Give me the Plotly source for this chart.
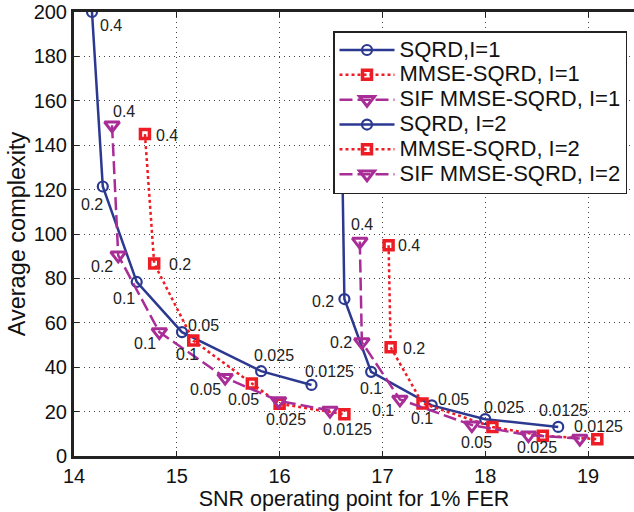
import plotly.graph_objects as go

# ---------------- data ----------------
names = ["SQRD,I=1", "MMSE-SQRD, I=1", "SIF MMSE-SQRD, I=1",
         "SQRD, I=2", "MMSE-SQRD, I=2", "SIF MMSE-SQRD, I=2"]

sqrd1_x = [14.175, 14.28, 14.61, 15.05, 15.82, 16.31]
sqrd1_y = [200.0, 121.4, 78.4, 55.8, 38.2, 32.0]
mmse1_x = [14.69, 14.78, 15.16, 15.73, 16.0, 16.63]
mmse1_y = [145.0, 86.7, 52.0, 32.7, 23.5, 18.8]
sif1_x = [14.37, 14.43, 14.83, 15.47, 15.99, 16.49]
sif1_y = [149.0, 90.4, 55.8, 35.3, 24.8, 20.5]

sqrd2_x = [16.60, 16.63, 16.89, 17.48, 18.0, 18.71]
sqrd2_y = [160.0, 70.7, 37.9, 22.8, 16.6, 13.1]
mmse2_x = [17.06, 17.08, 17.39, 18.07, 18.56, 19.09]
mmse2_y = [94.9, 49.0, 23.7, 13.1, 9.1, 7.6]
sif2_x = [16.78, 16.80, 17.17, 17.87, 18.42, 18.92]
sif2_y = [96.6, 51.3, 25.5, 13.9, 9.4, 7.9]

# point labels (empty where the reference shows none)
sqrd1_lab = ["0.4", "0.2", "0.1", "0.05", "0.025", "0.0125"]
mmse1_lab = ["0.4", "0.2", "0.1", "0.05", "0.025", "0.0125"]
sif1_lab = ["0.4", "0.2", "0.1", "0.05", "", ""]
sqrd2_lab = ["", "0.2", "0.1", "0.05", "0.025", "0.0125"]
mmse2_lab = ["0.4", "0.2", "0.1", "", "", "0.0125"]
sif2_lab = ["0.4", "0.2", "0.1", "0.05", "0.025", ""]

# ---------------- styling ----------------
BLUE = "#2B3990"
RED = "#EE1C25"
MAG = "#A92D97"
FONT = "Liberation Sans, Arial, sans-serif"

xs = [sqrd1_x, mmse1_x, sif1_x, sqrd2_x, mmse2_x, sif2_x]
ys = [sqrd1_y, mmse1_y, sif1_y, sqrd2_y, mmse2_y, sif2_y]
labs = [sqrd1_lab, mmse1_lab, sif1_lab, sqrd2_lab, mmse2_lab, sif2_lab]

# label pixel offsets (dx right, dy down)
offsets = [
    [(19, 13), (-11, 18), (-13, 17), (22, -7), (13, -16), (18, -13)],
    [(22, 1), (26, 1), (-6, 14), (-8, 16), (6, 16), (3, 15)],
    [(12, -14), (-16, 11), (-14, 11), (-20, 12), (0, 0), (0, 0)],
    [(0, 0), (-21, 2), (0, 17), (22, -6), (19, -12), (5, -16)],
    [(20, 0), (23, 1), (-1, 15), (0, 0), (0, 0), (1, -13)],
    [(2, -17), (-21, 0), (-17, 11), (5, 17), (9, 12), (0, 0)],
]

styles = [
    dict(line=dict(color=BLUE, width=2.5, dash="solid"),
         marker=dict(symbol="circle-open", size=10, color=BLUE, line=dict(width=2.2, color=BLUE))),
    dict(line=dict(color=RED, width=2.5, dash="3px,3px"),
         marker=dict(symbol="square-open", size=9, color=RED, line=dict(width=3.5, color=RED))),
    dict(line=dict(color=MAG, width=2.5, dash="13px,5px"),
         marker=dict(symbol="triangle-down-open", size=13, color=MAG, line=dict(width=3, color=MAG))),
]

fig = go.Figure()
for i, name in enumerate(names):
    st = styles[i % 3]
    fig.add_trace(go.Scatter(
        x=xs[i], y=ys[i],
        name='<span style="font-size:22px">' + name + '</span>',
        mode="lines+markers",
        line=st["line"], marker=st["marker"], cliponaxis=True,
    ))

for i in range(6):
    for xv, yv, t, (dx, dy) in zip(xs[i], ys[i], labs[i], offsets[i]):
        if t:
            fig.add_annotation(x=xv, y=yv, text=t, showarrow=False,
                               xshift=dx, yshift=-dy,
                               font=dict(family=FONT, size=16, color="#222"))

grid = dict(showgrid=True, gridcolor="#444", griddash="1px,4px", gridwidth=1)

fig.update_layout(
    width=634, height=512,
    margin=dict(l=74, r=0, t=12, b=56),
    paper_bgcolor="white", plot_bgcolor="white",
    font=dict(family=FONT, size=20, color="#111"),
    xaxis=dict(range=[14, 19.447], tickvals=[14, 15, 16, 17, 18, 19],
               ticks="inside", ticklen=5, tickcolor="#222",
               showline=True, linecolor="#222", linewidth=3, mirror="ticks",
               zeroline=False,
               title=dict(text="SNR operating point for 1% FER", standoff=2,
                          font=dict(size=21.5)),
               tickfont=dict(size=20), **grid),
    yaxis=dict(range=[0, 200], tickvals=list(range(0, 201, 20)),
               ticks="inside", ticklen=5, tickcolor="#222",
               showline=True, linecolor="#222", linewidth=3, mirror=False,
               zeroline=False,
               title=dict(text="Average complexity", standoff=2,
                          font=dict(size=23.5)),
               tickfont=dict(size=20), **grid),
    legend=dict(x=0.4625, y=0.957, xanchor="left", yanchor="top",
                bgcolor="white", bordercolor="#222", borderwidth=1.5,
                font=dict(size=16.8, color="#111"), itemwidth=55,
                tracegroupgap=0),
    showlegend=True,
)

fig.write_html("out.html")
